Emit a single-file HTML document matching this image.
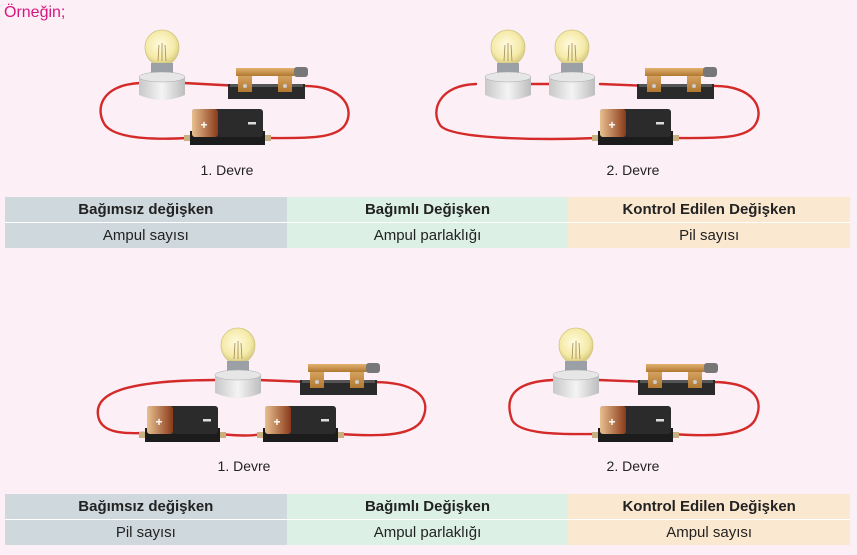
<!DOCTYPE html>
<html><head><meta charset="utf-8"><style>
body{margin:0;width:857px;height:555px;background:#fcf0f6;font-family:"Liberation Sans",Arial,sans-serif;position:relative;overflow:hidden}
.t{position:absolute;left:5px;width:845px;border-collapse:collapse;font-size:15px;text-align:center;color:#222}
.t td{height:25px;padding:0;width:33.33%}
.t tr:first-child td{font-weight:bold;border-bottom:1px solid #fff}
.c1{background:#cfd8dd}.c2{background:#ddf0e6}.c3{background:#fbe8d0}
</style></head><body>
<div style="position:absolute;left:4px;top:4px;color:#d4177f;font-size:16px">Örneğin;</div>
<svg width="857" height="555" style="position:absolute;left:0;top:0">
<defs>
<radialGradient id="gl" cx="0.45" cy="0.45" r="0.6"><stop offset="0" stop-color="#fffbe0"/><stop offset="0.7" stop-color="#f5eaa8"/><stop offset="1" stop-color="#d8cc80"/></radialGradient>
<linearGradient id="bs" x1="0" x2="1"><stop offset="0" stop-color="#c8c8c8"/><stop offset="0.5" stop-color="#f4f4f4"/><stop offset="1" stop-color="#bdbdbd"/></linearGradient>
<linearGradient id="br" x1="0" y1="0" x2="0" y2="1"><stop offset="0" stop-color="#e2b070"/><stop offset="1" stop-color="#b07830"/></linearGradient>
<linearGradient id="pl" x1="0" x2="1"><stop offset="0" stop-color="#e8c090"/><stop offset="1" stop-color="#8a3a1a"/></linearGradient>
<g id="bulb">
<path d="M-9,-14 Q-17,-20 -17,-30 A17,17 0 1 1 17,-30 Q17,-20 9,-14 Z" fill="url(#gl)" stroke="#cfc480" stroke-width="0.8"/>
<path d="M-4,-16 L-3,-32 M0,-16 L0,-34 M4,-16 L3,-32" stroke="#a08850" stroke-width="0.8" fill="none"/>
<rect x="-11" y="-14" width="22" height="12" fill="#9aa0a6"/>
<path d="M-23,0 L-23,18 Q0,28 23,18 L23,0 Z" fill="url(#bs)"/>
<ellipse cx="0" cy="0" rx="23" ry="5" fill="#e6e6e6" stroke="#aaa" stroke-width="0.5"/>
</g>
<g id="sw">
<rect x="0" y="18" width="77" height="15" fill="#2a2a2a"/>
<rect x="2" y="18" width="73" height="3" fill="#555"/>
<rect x="10" y="4" width="14" height="22" fill="url(#br)"/>
<rect x="50" y="4" width="14" height="22" fill="url(#br)"/>
<rect x="8" y="2" width="60" height="8" fill="url(#br)"/>
<rect x="66" y="1" width="14" height="10" rx="3" fill="#777"/>
<circle cx="17" cy="20" r="2" fill="#ccc"/><circle cx="57" cy="20" r="2" fill="#ccc"/>
</g>
<g id="bat">
<rect x="-6" y="26" width="87" height="6" fill="#c8b080"/>
<rect x="0" y="22" width="75" height="14" fill="#1c1c1c"/>
<rect x="2" y="0" width="71" height="28" rx="3" fill="#2b2b2b"/>
<rect x="2" y="0" width="26" height="28" rx="3" fill="url(#pl)"/>
<text x="14" y="20" fill="#fff" font-size="12" font-weight="bold" text-anchor="middle">+</text>
<rect x="58" y="13" width="8" height="2.5" fill="#ddd"/>
</g>
</defs>
<g fill="none" stroke="#d42a2a" stroke-width="2.4" stroke-linecap="round">
<path d="M140,83 C100,85 95,110 105,125 C115,138 150,140 188,138"/>
<path d="M184,83 L240,86"/>
<path d="M302,86 C345,85 355,110 345,125 C335,140 300,138 266,138"/>
<path d="M476,84 C440,85 430,110 440,125 C450,140 550,140 597,138"/>
<path d="M520,84 L552,84"/><path d="M600,84 L650,86"/>
<path d="M712,86 C755,85 765,110 755,125 C745,140 710,138 672,138"/>
<path d="M218,380 C120,380 95,395 98,415 C100,432 120,434 144,433"/>
<path d="M258,380 L310,382"/>
<path d="M372,382 C420,382 432,400 422,420 C412,438 370,436 339,434"/>
<path d="M219,434 C240,436 250,436 264,434"/>
<path d="M553,380 C510,382 505,400 512,420 C520,436 570,434 597,434"/>
<path d="M598,380 L650,382"/>
<path d="M712,382 C755,382 765,400 755,420 C745,438 700,436 671,434"/>
</g>
<use href="#bulb" x="162" y="77"/>
<use href="#sw" x="228" y="66"/>
<use href="#bat" x="190" y="109"/>
<use href="#bulb" x="508" y="77"/>
<use href="#bulb" x="572" y="77"/>
<use href="#sw" x="637" y="66"/>
<use href="#bat" x="598" y="109"/>
<use href="#bulb" x="238" y="375"/>
<use href="#sw" x="300" y="362"/>
<use href="#bat" x="145" y="406"/>
<use href="#bat" x="263" y="406"/>
<use href="#bulb" x="576" y="375"/>
<use href="#sw" x="638" y="362"/>
<use href="#bat" x="598" y="406"/>
<g font-size="14" fill="#222" text-anchor="middle">
<text x="227" y="175">1. Devre</text><text x="633" y="175">2. Devre</text>
<text x="244" y="471">1. Devre</text><text x="633" y="471">2. Devre</text>
</g>
</svg>
<table class="t" style="top:197px">
<tr><td class="c1">Bağımsız değişken</td><td class="c2">Bağımlı Değişken</td><td class="c3">Kontrol Edilen Değişken</td></tr>
<tr><td class="c1">Ampul sayısı</td><td class="c2">Ampul parlaklığı</td><td class="c3">Pil sayısı</td></tr>
</table>
<table class="t" style="top:494px">
<tr><td class="c1">Bağımsız değişken</td><td class="c2">Bağımlı Değişken</td><td class="c3">Kontrol Edilen Değişken</td></tr>
<tr><td class="c1">Pil sayısı</td><td class="c2">Ampul parlaklığı</td><td class="c3">Ampul sayısı</td></tr>
</table>
</body></html>
